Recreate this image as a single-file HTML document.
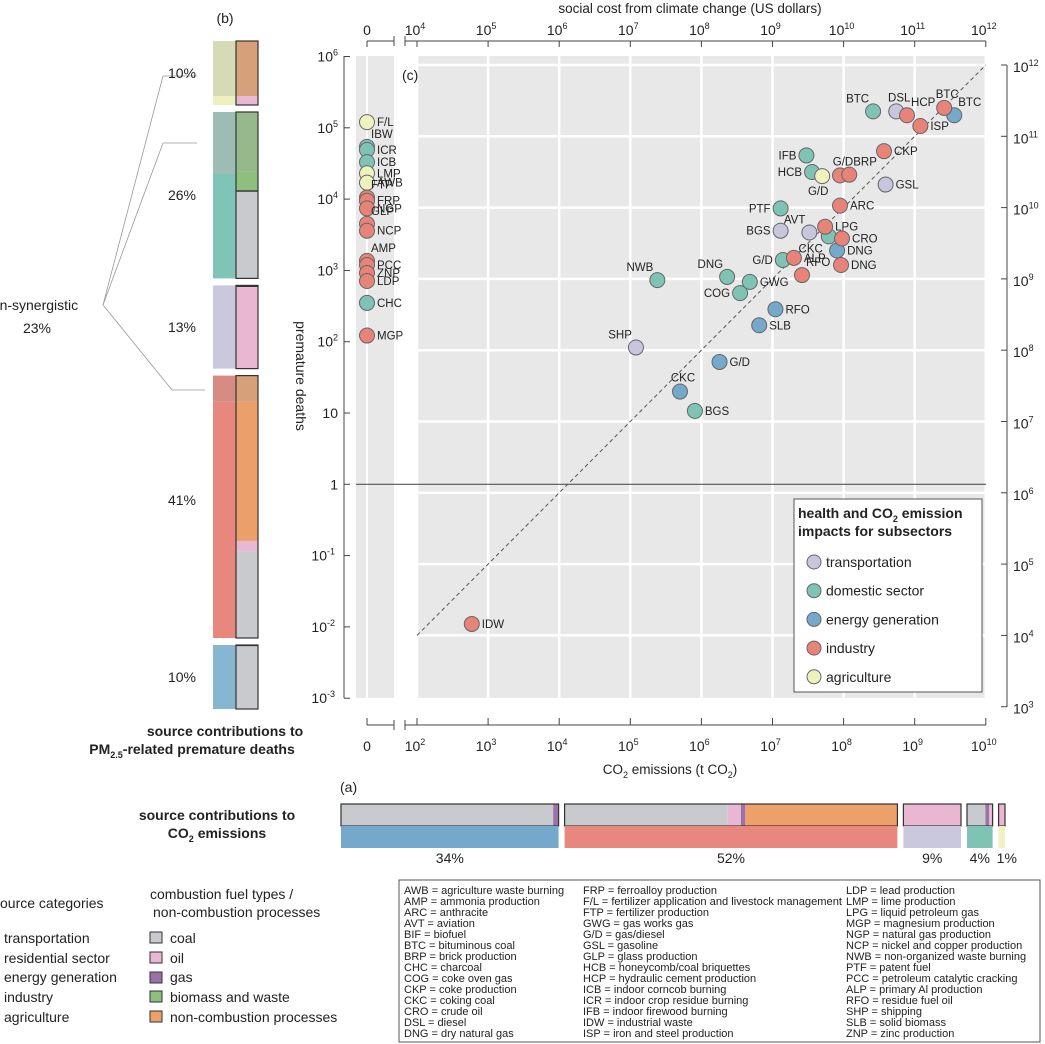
<!DOCTYPE html>
<html><head><meta charset="utf-8"><style>
html,body{margin:0;padding:0;background:#fff;}
svg{display:block;font-family:"Liberation Sans",Arial,sans-serif;}
</style></head><body>
<svg id="fig" xmlns="http://www.w3.org/2000/svg" width="1045" height="1044" viewBox="0 0 1045 1044">
<text x="225" y="23" font-size="14" text-anchor="middle" fill="#222">(b)</text>
<text x="-16" y="310" font-size="14" fill="#222">non-synergistic</text>
<text x="37" y="333" font-size="14" text-anchor="middle" fill="#222">23%</text>
<g stroke="#999" stroke-width="0.8" fill="none">
<line x1="103" y1="305" x2="163" y2="76"/><line x1="163" y1="76" x2="197" y2="76"/>
<line x1="103" y1="305" x2="163" y2="143"/><line x1="163" y1="143" x2="197" y2="143"/>
<line x1="103" y1="305" x2="172" y2="390"/><line x1="172" y1="390" x2="205" y2="390"/>
</g>
<text x="225" y="736" font-size="14" font-weight="bold" text-anchor="middle" fill="#222">source contributions to</text>
<text x="192" y="754" font-size="14" font-weight="bold" text-anchor="middle" fill="#222">PM<tspan font-size="9" dy="4">2.5</tspan><tspan dy="-4">-related premature deaths</tspan></text>

<text x="690" y="13" font-size="13.5" text-anchor="middle" fill="#222">social cost from climate change (US dollars)</text>
<text x="670" y="774" font-size="13.5" text-anchor="middle" fill="#222">CO<tspan font-size="9" dy="4">2</tspan><tspan dy="-4"> emissions (t CO</tspan><tspan font-size="9" dy="4">2</tspan><tspan dy="-4">)</tspan></text>
<text transform="translate(296,376) rotate(90)" font-size="14" text-anchor="middle" fill="#222">premature deaths</text>
<text x="340" y="792" font-size="14" fill="#222">(a)</text>
<text x="217" y="820" font-size="14" font-weight="bold" text-anchor="middle" fill="#222">source contributions to</text>
<text x="217" y="838" font-size="14" font-weight="bold" text-anchor="middle" fill="#222">CO<tspan font-size="9" dy="4">2</tspan><tspan dy="-4"> emissions</tspan></text>

<g font-size="14" fill="#222">
<text x="-7" y="908">source categories</text>
<text x="4" y="943">transportation</text>
<text x="4" y="963">residential sector</text>
<text x="4" y="982">energy generation</text>
<text x="4" y="1002">industry</text>
<text x="4" y="1022">agriculture</text>
</g>
<g font-size="14" fill="#222">
<text x="150" y="899">combustion fuel types /</text>
<text x="153" y="917">non-combustion processes</text>
<rect x="150" y="932" width="12" height="11" fill="#c8cacd" stroke="#333"/><text x="170" y="943">coal</text>
<rect x="150" y="952" width="12" height="11" fill="#eab7d2" stroke="#333"/><text x="170" y="963">oil</text>
<rect x="150" y="972" width="12" height="11" fill="#9b72a8" stroke="#333"/><text x="170" y="982">gas</text>
<rect x="150" y="991" width="12" height="11" fill="#8dc07c" stroke="#333"/><text x="170" y="1002">biomass and waste</text>
<rect x="150" y="1011" width="12" height="11" fill="#eda06a" stroke="#333"/><text x="170" y="1022">non-combustion processes</text>
</g>

<g>
<rect x="399" y="880" width="641" height="162" fill="#fff" stroke="#555" stroke-width="1"/>
<g font-size="11" fill="#222">
<text x="404" y="894">AWB = agriculture waste burning</text>
<text x="404" y="905">AMP = ammonia production</text>
<text x="404" y="916">ARC = anthracite</text>
<text x="404" y="927">AVT = aviation</text>
<text x="404" y="938">BIF = biofuel</text>
<text x="404" y="949">BTC = bituminous coal</text>
<text x="404" y="960">BRP = brick production</text>
<text x="404" y="971">CHC = charcoal</text>
<text x="404" y="982">COG = coke oven gas</text>
<text x="404" y="993">CKP = coke production</text>
<text x="404" y="1004">CKC = coking coal</text>
<text x="404" y="1015">CRO = crude oil</text>
<text x="404" y="1026">DSL = diesel</text>
<text x="404" y="1037">DNG = dry natural gas</text>
<text x="583" y="894">FRP = ferroalloy production</text>
<text x="583" y="905" textLength="259" lengthAdjust="spacingAndGlyphs">F/L = fertilizer application and livestock management</text>
<text x="583" y="916">FTP = fertilizer production</text>
<text x="583" y="927">GWG = gas works gas</text>
<text x="583" y="938">G/D = gas/diesel</text>
<text x="583" y="949">GSL = gasoline</text>
<text x="583" y="960">GLP = glass production</text>
<text x="583" y="971">HCB = honeycomb/coal briquettes</text>
<text x="583" y="982">HCP = hydraulic cement production</text>
<text x="583" y="993">ICB = indoor corncob burning</text>
<text x="583" y="1004">ICR = indoor crop residue burning</text>
<text x="583" y="1015">IFB = indoor firewood burning</text>
<text x="583" y="1026">IDW = industrial waste</text>
<text x="583" y="1037">ISP = iron and steel production</text>
<text x="846" y="894">LDP = lead production</text>
<text x="846" y="905">LMP = lime production</text>
<text x="846" y="916">LPG = liquid petroleum gas</text>
<text x="846" y="927">MGP = magnesium production</text>
<text x="846" y="938">NGP = natural gas production</text>
<text x="846" y="949">NCP = nickel and copper production</text>
<text x="846" y="960">NWB = non-organized waste burning</text>
<text x="846" y="971">PTF = patent fuel</text>
<text x="846" y="982">PCC = petroleum catalytic cracking</text>
<text x="846" y="993">ALP = primary Al production</text>
<text x="846" y="1004">RFO = residue fuel oil</text>
<text x="846" y="1015">SHP = shipping</text>
<text x="846" y="1026">SLB = solid biomass</text>
<text x="846" y="1037">ZNP = zinc production</text>
</g></g>
<g id="dyn"></g>
</svg>
<script>
const sectorNames = ['transportation','domestic sector','energy generation','industry','agriculture'];
const sectorColors = ['#c8c6dc','#7fc3b4','#74a9cc','#e8837a','#eef2bf'];
const abbr   = ['DSL','GSL','AVT','BGS','SHP',
  'BTC','IFB','HCB','PTF','CKC','G/D','DNG','GWG','COG','NWB','BGS',
  'BTC','DNG','RFO','SLB','G/D','CKC',
  'BTC','HCP','ISP','CKP','G/D','BRP','ARC','LPG','CRO','ALP','DNG','RFO','IDW',
  'G/D'];
const sector = [0,0,0,0,0, 1,1,1,1,1,1,1,1,1,1,1, 2,2,2,2,2,2, 3,3,3,3,3,3,3,3,3,3,3,3,3, 4];
const co2 = [5.5e8,3.9e8,3.3e7,1.3e7,1.2e5,
  2.6e8,3.0e7,3.6e7,1.3e7,6.2e7,1.4e7,2.3e6,4.8e6,3.5e6,2.4e5,8.1e5,
  3.6e9,8.1e7,1.1e7,6.5e6,1.8e6,5.0e5,
  2.6e9,7.8e8,1.2e9,3.7e8,8.9e7,1.2e8,8.9e7,5.5e7,9.5e7,2.0e7,9.2e7,2.6e7,590,
  5.0e7];
const deaths = [1.7e5,1.6e4,3400,3600,83,
  1.7e5,4.1e4,2.4e4,7400,3000,1400,810,690,480,730,10.7,
  1.5e5,1900,285,170,52,20,
  1.9e5,1.5e5,1.06e5,4.7e4,2.15e4,2.2e4,8100,4100,2800,1500,1190,860,0.011,
  2.1e4];
const labelPos = ['a','r','al','l','al',
  'al','l','l','l','bl','l','al','r','l','al','r',
  'ar','r','r','r','r','a',
  'a','ar','r','r','a','ar','r','r','r','r','r','ar','r',
  'b'];
const zAbbr = ['F/L','IBW','ICR','ICB','LMP','AWB','FTP','FRP','NGP','GLP','NCP','AMP','PCC','ZNP','LDP','CHC','MGP'];
const zSector = [4,1,1,1,4,4,3,3,3,3,3,3,3,3,3,1,3];
const zDeaths = [1.2e5,5.4e4,4.9e4,3.3e4,2.3e4,1.7e4,1.05e4,9.5e3,7400,4500,3600,1360,1190,920,710,350,122];
const zLabelPos = ['r','ar','r','r','r','r','ar','r','r','ar','r','ar','r','r','r','r','r'];
const co2Ticks = [2,3,4,5,6,7,8,9,10];
const costTicks = [4,5,6,7,8,9,10,11,12];
const deathTicks = [6,5,4,3,2,1,0,-1,-2,-3];
const rightTicks = [12,11,10,9,8,7,6,5,4,3];
const bShares = [10,26,13,41,10];
const bLeftFrac = [[0.86,0.14],[0.37,0.63],[1],[0.1,0.9],[1]];
const bLeftCol = [['#d6dab5','#eef0c0'],['#9dbcb4','#80c4b7'],['#c9c8dc'],['#d68c82','#e8877d'],['#85b6d2']];
const bRightFrac = [[0.86,0.14],[0.36,0.11,0.01,0.52],[0.02,0.98],[0.1,0.53,0.04,0.33],[0.02,0.98]];
const bRightCol = [['#d6a07a','#eab7d2'],['#95b98a','#8dc07c','#333','#c8cacd'],['#333','#eab7d2'],['#d6a07a','#eba06a','#eab7d2','#c8cacd'],['#333','#c8cacd']];
const aShares = [34,52,9,4,1];
const aSectorCol = ['#74a9cc','#e8877d','#c9c8dc','#7fc3b4','#eef2bf'];
const aFuelFrac = [[0.975,0.025],[0.49,0.04,0.013,0.457],[1],[0.72,0.15,0.13],[1]];
const aFuelCol = [['#c8cacd','#9b72a8'],['#c8cacd','#eab7d2','#9b72a8','#eda06a'],['#eab7d2'],['#c8cacd','#9b72a8','#eab7d2'],['#eab7d2']];

const L = Math.log10;
const xCO2 = v => 417 + (L(v)-2)*71.1;
const xCost = v => 417 + (L(v)-4)*71.1;
const yDeaths = v => 56.5 + (6-L(v))*71.3;
const yCost = v => 65 + (12-L(v))*71.3;
const xZero = 367;

const NS='http://www.w3.org/2000/svg';
const root=document.getElementById('dyn');
function mk(tag, attrs, parent){const e=document.createElementNS(NS,tag);for(const k in attrs)e.setAttribute(k,attrs[k]);(parent||root).appendChild(e);return e;}
function pow(parent,x,y,base,exp,anchor){
  const t=mk('text',{x:x,y:y,'font-size':14,'text-anchor':anchor||'middle',fill:'#222'},parent);
  t.appendChild(document.createTextNode(base));
  if(exp!==null){const s=mk('tspan',{'font-size':9,dy:-6},t);s.textContent=exp;}
  return t;
}

let g=mk('g',{});


let e=mk('rect',{x:356,y:56,width:38,height:642,fill:'#e8e8e8'},g);


e=mk('rect',{x:416,y:56,width:570,height:642,fill:'#e8e8e8'},g);


mk('line',{x1:367,y1:56,x2:367,y2:698,stroke:'#fff','stroke-width':2},g);
co2Ticks.forEach(t=>{const x=xCO2(Math.pow(10,t));
  e=mk('line',{x1:x,y1:56,x2:x,y2:698,stroke:'#fff','stroke-width':2.5},g);
  
  });
rightTicks.forEach(t=>{const y=yCost(Math.pow(10,t)); if(y>698) return;
  e=mk('line',{x1:416,y1:y,x2:986,y2:y,stroke:'#fff','stroke-width':2.5},g);
  
  });
e=mk('line',{x1:356,y1:yDeaths(1),x2:986,y2:yDeaths(1),stroke:'#555','stroke-width':1.2},g);


e=mk('line',{x1:xCO2(1e2),y1:yCost(1e4),x2:xCO2(1e10),y2:yCost(1e12),stroke:'#555','stroke-width':1,'stroke-dasharray':'4,3'},g);


let c=mk('text',{x:402,y:80,'font-size':14,fill:'#222'},g);c.textContent='(c)';



const ax=mk('g',{stroke:'#444','stroke-width':1,fill:'none'});


mk('line',{x1:367,y1:725,x2:394,y2:725},ax);mk('line',{x1:367,y1:718,x2:367,y2:725},ax);mk('line',{x1:394,y1:720,x2:394,y2:730},ax);
mk('line',{x1:405,y1:720,x2:405,y2:730},ax);mk('line',{x1:405,y1:725,x2:986,y2:725},ax);
mk('line',{x1:367,y1:41,x2:394,y2:41},ax);mk('line',{x1:367,y1:41,x2:367,y2:47},ax);mk('line',{x1:394,y1:36,x2:394,y2:46},ax);
mk('line',{x1:405,y1:36,x2:405,y2:46},ax);mk('line',{x1:405,y1:41,x2:986,y2:41},ax);
mk('line',{x1:344,y1:56,x2:344,y2:698},ax);
mk('line',{x1:1007,y1:65,x2:1007,y2:707},ax);
const tl=mk('g',{});


pow(tl,367,751,'0',null);pow(tl,367,35,'0',null);
co2Ticks.forEach(t=>{const x=xCO2(Math.pow(10,t));mk('line',{x1:x,y1:718,x2:x,y2:725},ax);
  e=pow(tl,x-2,751,'10',String(t));
  
  });
costTicks.forEach(t=>{const x=xCost(Math.pow(10,t));mk('line',{x1:x,y1:41,x2:x,y2:47},ax);
  e=pow(tl,x-2,35,'10',String(t));
  
  });
deathTicks.forEach(t=>{const y=yDeaths(Math.pow(10,t));mk('line',{x1:344,y1:y,x2:350,y2:y},ax);
  let lab = t===0?['1',null]:(t===1?['10',null]:['10',String(t)]);
  e=pow(tl,t<0?335:338,y+5,lab[0],lab[1],'end');
  
  });
rightTicks.forEach(t=>{const y=yCost(Math.pow(10,t));mk('line',{x1:1001,y1:y,x2:1007,y2:y},ax);
  e=pow(tl,1013,y+7,'10',String(t),'start');
  
  });

const off={r:[10,4,'start'],l:[-10,4,'end'],a:[3,-10,'middle'],ar:[4,-9,'start'],al:[-4,-9,'end'],bl:[-6,16,'end'],b:[-4,19,'middle']};
function point(x,y,col,lab,pos){
  const pg=mk('g',{});
  
  
  mk('circle',{cx:x,cy:y,r:7.5,fill:col,stroke:'#666','stroke-width':1},pg);
  const o=off[pos];
  const t=mk('text',{x:x+o[0],y:y+o[1],'font-size':11.5,'text-anchor':o[2],fill:'#222'},pg);
  t.textContent=lab;
}
zAbbr.forEach((a,i)=>point(xZero,yDeaths(zDeaths[i]),sectorColors[zSector[i]],a,zLabelPos[i]));
abbr.forEach((a,i)=>point(xCO2(co2[i]),yDeaths(deaths[i]),sectorColors[sector[i]],a,labelPos[i]));

const lg=mk('g',{});


mk('rect',{x:794,y:499,width:188,height:193,fill:'#fff',stroke:'#555','stroke-width':1},lg);
let lt=mk('text',{x:798,y:518,'font-size':14,'font-weight':'bold',fill:'#222'},lg);
lt.innerHTML='health and CO<tspan font-size="9" dy="4">2</tspan><tspan dy="-4"> emission</tspan>';
lt=mk('text',{x:798,y:536,'font-size':14,'font-weight':'bold',fill:'#222'},lg);lt.textContent='impacts for subsectors';
sectorNames.forEach((n,i)=>{const y=562+i*28.7;
  const eg=mk('g',{},lg);
  
  
  mk('circle',{cx:814,cy:y,r:7,fill:sectorColors[i],stroke:'#666'},eg);
  const t=mk('text',{x:826,y:y+5,'font-size':14,fill:'#222'},eg);t.textContent=n;});

const pb=mk('g',{});


let yy=41;const ppp=6.4;
bShares.forEach((s,i)=>{const h=s*ppp;
  let y0=yy;bLeftFrac[i].forEach((f,j)=>{const r=mk('rect',{x:213,y:y0,width:23,height:f*h,fill:bLeftCol[i][j]},pb);
    
    y0+=f*h;});
  y0=yy;bRightFrac[i].forEach((f,j)=>{const r=mk('rect',{x:236,y:y0,width:22,height:f*h,fill:bRightCol[i][j]},pb);
    
    y0+=f*h;});
  mk('rect',{x:236,y:yy,width:22,height:h,fill:'none',stroke:'#333','stroke-width':1.2},pb);
  const t=mk('text',{x:196,y:yy+h/2+(i==3?-2:5),'font-size':14,'text-anchor':'end',fill:'#222'},pb);
  t.textContent=s+'%';
  
  
  yy+=h+7;});

const pa=mk('g',{});


let xx=341;
aShares.forEach((s,i)=>{const w=s*6.4;
  let x0=xx;aFuelFrac[i].forEach((f,j)=>{const r=mk('rect',{x:x0,y:804,width:f*w,height:22,fill:aFuelCol[i][j]},pa);
    
    x0+=f*w;});
  mk('rect',{x:xx,y:804,width:w,height:22,fill:'none',stroke:'#333','stroke-width':1.2},pa);
  const r=mk('rect',{x:xx,y:826,width:w,height:22,fill:aSectorCol[i]},pa);
  
  
  const t=mk('text',{x:xx+w/2+(i==4?5:0),y:863,'font-size':14,'text-anchor':'middle',fill:'#222'},pa);
  t.textContent=s+'%';
  
  
  xx+=w+6;});
</script>
</body></html>
